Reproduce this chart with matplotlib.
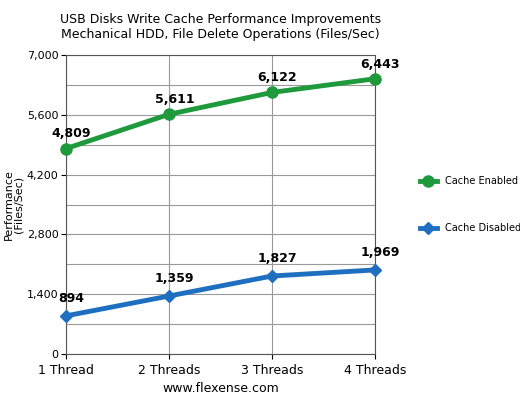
import matplotlib
matplotlib.use("Agg")
import matplotlib.pyplot as plt
from matplotlib.ticker import MultipleLocator

categories = ["1 Thread", "2 Threads", "3 Threads", "4 Threads"]
enabled = [4809, 5611, 6122, 6443]
disabled = [894, 1359, 1827, 1969]

fig = plt.figure(figsize=(5.2, 4.01), dpi=100)
ax = fig.add_axes([0.127, 0.117, 0.594, 0.746])
x = range(len(categories))
green = "#1e9a3c"
blue = "#1f6fc0"
l1, = ax.plot(x, enabled, color=green, lw=3.5, marker="o", ms=8, label="Cache Enabled", zorder=3, clip_on=False)
l2, = ax.plot(x, disabled, color=blue, lw=3.5, marker="D", ms=6, label="Cache Disabled", zorder=3, clip_on=False)
for xi, v in zip(x, enabled):
    ax.annotate(f"{v:,}", (xi, v), xytext=(4, 8), textcoords="offset points", ha="center", fontsize=9, fontweight="bold")
for xi, v in zip(x, disabled):
    ax.annotate(f"{v:,}", (xi, v), xytext=(4, 10), textcoords="offset points", ha="center", fontsize=9, fontweight="bold")
ax.set_xlim(0, 3)
ax.set_ylim(0, 7000)
ax.set_xticks(list(x))
ax.set_xticklabels(categories, fontsize=9)
ax.yaxis.set_major_locator(MultipleLocator(1400))
ax.yaxis.set_minor_locator(MultipleLocator(700))
ax.set_yticklabels([f"{int(t):,}" for t in ax.get_yticks()], fontsize=8)
ax.tick_params(axis="y", pad=2)
ax.grid(True, which="both", axis="y", color="#999999", lw=0.8)
ax.grid(True, axis="x", color="#999999", lw=0.8)
ax.tick_params(which="minor", length=0)
for s in ax.spines.values():
    s.set_color("#555555")
fig.text(0.026, 0.49, "Performance\n(Files/Sec)", rotation=90, ha="center", va="center", fontsize=8, linespacing=1.0)
ax.set_xlabel("www.flexense.com", fontsize=9)
ax.set_title("USB Disks Write Cache Performance Improvements\nMechanical HDD, File Delete Operations (Files/Sec)", fontsize=9, pad=12)
fig.legend(handles=[l1, l2], loc="center left", bbox_to_anchor=(0.79, 0.49), frameon=False, fontsize=7, labelspacing=3.8, handlelength=1.8)
fig.savefig("out.png", dpi=100)
